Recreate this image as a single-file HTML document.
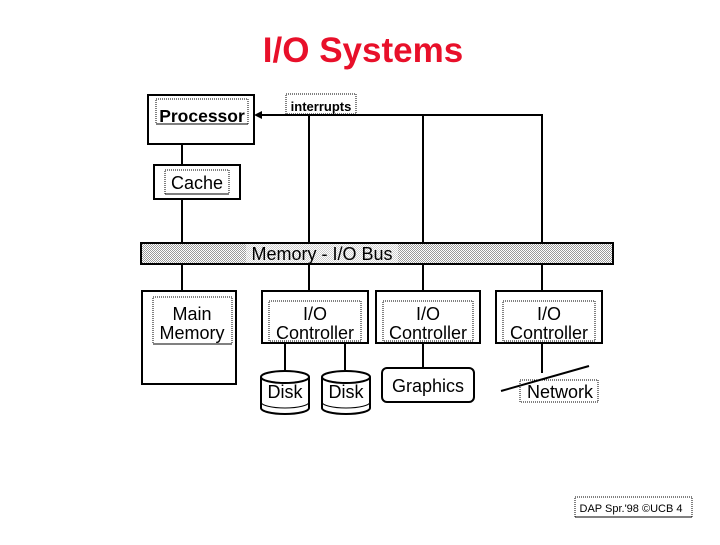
<!DOCTYPE html>
<html><head><meta charset="utf-8"><style>
html,body{margin:0;padding:0;background:#fff;}
svg text{font-family:"Liberation Sans",Arial,sans-serif;}
</style></head><body>
<svg width="720" height="540" viewBox="0 0 720 540" xmlns="http://www.w3.org/2000/svg">
<defs>
<pattern id="dots" width="2" height="2" patternUnits="userSpaceOnUse">
<rect width="2" height="2" fill="#fff"/><rect width="1" height="1" fill="#9a9a9a"/><rect x="1" y="1" width="1" height="1" fill="#9a9a9a"/>
</pattern>
</defs>
<text x="363" y="62" text-anchor="middle" font-size="35" font-weight="bold" fill="#e8102a">I/O Systems</text>

<g stroke="#000" stroke-width="2" fill="none">
<line x1="182" y1="144" x2="182" y2="165"/>
<line x1="182" y1="199" x2="182" y2="243"/>
<line x1="182" y1="264" x2="182" y2="291"/>
<line x1="309" y1="115" x2="309" y2="291"/>
<line x1="423" y1="115" x2="423" y2="291"/>
<line x1="542" y1="115" x2="542" y2="291"/>
<line x1="258" y1="115" x2="543" y2="115"/>
<line x1="285" y1="343" x2="285" y2="370"/>
<line x1="345" y1="343" x2="345" y2="370"/>
<line x1="423" y1="343" x2="423" y2="368"/>
<line x1="542" y1="343" x2="542" y2="373"/>
<line x1="501" y1="391" x2="589" y2="366"/>
<rect x="148" y="95" width="106" height="49" fill="#fff"/>
<rect x="154" y="165" width="86" height="34" fill="#fff"/>
<rect x="142" y="291" width="94" height="93" fill="#fff"/>
<rect x="262" y="291" width="106" height="52" fill="#fff"/>
<rect x="376" y="291" width="104" height="52" fill="#fff"/>
<rect x="496" y="291" width="106" height="52" fill="#fff"/>
<rect x="382" y="368" width="92" height="34" rx="5" fill="#fff"/>
</g>
<polygon points="254,115 262,111 262,119" fill="#000"/>
<rect x="141" y="243" width="472" height="21" fill="url(#dots)" stroke="#000" stroke-width="2"/>
<rect x="246" y="244" width="152" height="19" fill="#fff" opacity="0.5"/>

<g stroke="#000" stroke-width="2" fill="#fff">
<path d="M261,377 L261,408 A24,6 0 0 0 309,408 L309,377"/>
<ellipse cx="285" cy="377" rx="24" ry="6"/>
<path d="M261,402 A24,6 0 0 0 309,402" fill="none" stroke-width="1"/>
<path d="M322,377 L322,408 A24,6 0 0 0 370,408 L370,377"/>
<ellipse cx="346" cy="377" rx="24" ry="6"/>
<path d="M322,402 A24,6 0 0 0 370,402" fill="none" stroke-width="1"/>
</g>

<g font-size="18" text-anchor="middle" fill="#000">
<text x="202" y="122" font-weight="bold" font-size="17.5">Processor</text>
<text x="197" y="189">Cache</text>
<text x="322" y="260">Memory - I/O Bus</text>
<text x="192" y="320">Main</text>
<text x="192" y="339">Memory</text>
<text x="315" y="320">I/O</text>
<text x="315" y="339">Controller</text>
<text x="428" y="320">I/O</text>
<text x="428" y="339">Controller</text>
<text x="549" y="320">I/O</text>
<text x="549" y="339">Controller</text>
<text x="285" y="398">Disk</text>
<text x="346" y="398">Disk</text>
<text x="428" y="392">Graphics</text>
<text x="560" y="398">Network</text>
<text x="321" y="111" font-size="13" font-weight="bold">interrupts</text>
<text x="631" y="512" font-size="11">DAP Spr.'98 ©UCB 4</text>
</g>
<g stroke="#000" stroke-width="1" stroke-dasharray="1,1" fill="none">
<rect x="156" y="99" width="92" height="25"/>
<rect x="165" y="170" width="64" height="24"/>
<rect x="153" y="297" width="79" height="47"/>
<rect x="269" y="301" width="92" height="40"/>
<rect x="383" y="301" width="90" height="40"/>
<rect x="503" y="301" width="92" height="40"/>
<rect x="286" y="94" width="70" height="20"/>
<rect x="520" y="380" width="78" height="22"/>
<rect x="575" y="497" width="117" height="20"/>
</g>
<g stroke="#000" stroke-width="1">
<line x1="156" y1="124" x2="248" y2="124"/>
<line x1="165" y1="194" x2="229" y2="194"/>
<line x1="153" y1="344" x2="232" y2="344"/>
<line x1="575" y1="517" x2="692" y2="517"/>
</g>
</svg>
</body></html>
